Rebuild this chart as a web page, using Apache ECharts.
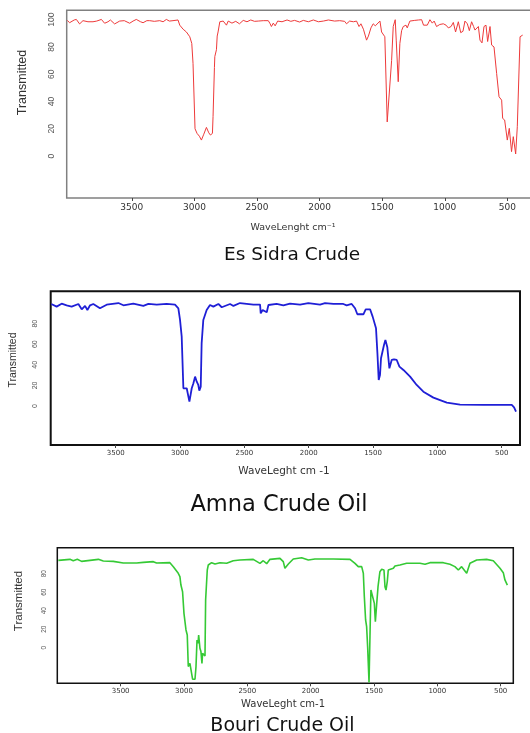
<!DOCTYPE html>
<html>
<head>
<meta charset="utf-8">
<script src="https://cdn.jsdelivr.net/npm/echarts@6/dist/echarts.min.js"></script>
<style>html,body{margin:0;padding:0;background:#fff}#main{width:530px;height:733px}</style>
</head>
<body>
<div id="main"></div>
<script>
// tick labels
var xTicks = [3500, 3000, 2500, 2000, 1500, 1000, 500];
var yTicksSidra = [0, 20, 40, 60, 80, 100];
var yTicksOther = [0, 20, 40, 60, 80];

// Es Sidra Crude (red)
var sidraWave = [4015, 3997, 3960, 3943, 3917, 3890, 3877, 3850, 3810, 3780, 3743, 3717, 3690, 3671, 3637, 3597, 3560, 3517, 3490, 3464,
  3430, 3410, 3380, 3357, 3320, 3277, 3250, 3224, 3200, 3171, 3131, 3117, 3090, 3064, 3037, 3021, 3011, 2995, 2979, 2960,
  2944, 2925, 2904, 2885, 2872, 2856, 2851, 2840, 2837, 2824, 2818, 2811, 2797, 2770, 2755, 2744, 2730, 2700, 2670, 2640,
  2610, 2580, 2550, 2520, 2490, 2450, 2410, 2395, 2385, 2370, 2355, 2335, 2300, 2260, 2230, 2200, 2160, 2130, 2090, 2050,
  2010, 1970, 1930, 1880, 1840, 1800, 1785, 1760, 1730, 1705, 1692, 1685, 1670, 1650, 1625, 1610, 1590, 1572, 1555, 1518,
  1505, 1479, 1460, 1425, 1412, 1396, 1388, 1372, 1359, 1345, 1332, 1310, 1300, 1279, 1240, 1210, 1185, 1170, 1159, 1140,
  1119, 1100, 1085, 1066, 1040, 1012, 990, 972, 950, 932, 914, 892, 873, 855, 839, 820, 804, 786, 770, 759,
  745, 732, 719, 703, 687, 671, 658, 639, 626, 607, 586, 567, 546, 538, 522, 501, 485, 467, 453, 434,
  421, 399, 378];
var sidraT = [99.5, 97.8, 99.8, 100.2, 96.9, 99.3, 100.2, 98.5, 98.5, 99, 100.2, 97.4, 98.5, 99.8, 96.9, 99, 99.3, 97.4, 99, 100.2,
  98.5, 97.8, 99.3, 99.3, 98.8, 99.3, 98.5, 100.2, 99, 99.3, 99.8, 96, 93, 91, 87.5, 82.6, 68, 20, 16.6, 14.5,
  11.7, 16, 21, 17, 15.4, 16.6, 29, 65, 73, 78, 88, 91, 98.5, 99, 99.5, 96, 99, 97.5, 98.8, 97,
  99.5, 98.5, 99.8, 98.8, 99, 99.3, 99.3, 97, 95, 97.5, 95.5, 99, 98.5, 99.8, 98.8, 99.5, 98.3, 99.5, 98.5, 99.8,
  98.5, 99, 99.8, 99, 99.3, 98.8, 97, 99, 98.5, 99, 100, 95, 97, 93, 85, 88, 94, 97, 95.5, 99,
  91, 87.5, 25, 70, 95, 100, 85, 54.5, 82.6, 92, 95, 96, 94, 99, 99.5, 99.8, 100, 96, 95, 96,
  100, 97.5, 99, 95, 96.5, 97, 96, 94, 95, 98, 91, 98.5, 90.5, 91.5, 99, 97, 92, 98.5, 95, 92.4,
  93, 95, 85, 83, 95, 96, 84, 95, 81.4, 80, 60.6, 43.5, 41, 27.6, 26.4, 11.7, 20.3, 3.2, 14.2, 1.5,
  21.5, 87.5, 88.7];

// Amna Crude Oil (blue)
var amnaWave = [4000, 3959, 3920, 3881, 3842, 3790, 3764, 3738, 3720, 3699, 3674, 3622, 3570, 3479, 3440, 3363, 3285, 3246, 3181, 3104,
  3039, 3013, 3000, 2987, 2974, 2948, 2927, 2909, 2896, 2883, 2870, 2858, 2850, 2839, 2832, 2819, 2793, 2767, 2741, 2702,
  2676, 2611, 2585, 2534, 2430, 2378, 2373, 2358, 2326, 2313, 2249, 2197, 2145, 2067, 2003, 1912, 1873, 1808, 1731, 1718,
  1705, 1666, 1640, 1622, 1575, 1557, 1523, 1503, 1477, 1466, 1456, 1446, 1438, 1425, 1415, 1404, 1389, 1373, 1355, 1337,
  1316, 1295, 1264, 1212, 1161, 1109, 1031, 927, 824, 642, 422, 404, 389];
var amnaT = [99.1, 96.5, 99.4, 97.8, 96.5, 99.1, 93.9, 97.2, 93.3, 97.8, 99.1, 94.9, 98.4, 100, 97.8, 99.4, 97.2, 99.1, 98.4, 99.1,
  98.4, 94.9, 83.6, 67.4, 17.2, 17.2, 4.2, 17.2, 22, 28.5, 23.6, 20.4, 14.9, 18.8, 60.9, 83.6, 93.3, 98.1, 96.5, 99.1,
  95.9, 99.1, 97.2, 100, 98.4, 98.4, 90, 93.3, 91, 98.1, 99.1, 97.8, 99.4, 98.4, 100, 98.4, 100, 99.1, 99.1, 100.8,
  97.8, 99.1, 94.9, 89.1, 89.1, 93.9, 93.9, 86.8, 75.5, 51.2, 25.3, 30.1, 46.3, 47.3, 59.3, 64.1, 57, 36.6, 44.7, 45.3,
  44.7, 38.2, 35, 28.5, 20.4, 13.9, 8.1, 3.2, 1.3, 1, 1, -1.3, -5.5];

// Bouri Crude Oil (green)
var bouriWave = [3992, 3900, 3874, 3842, 3808, 3676, 3637, 3558, 3479, 3374, 3321, 3242, 3216, 3111, 3084, 3045, 3032, 3024, 3011, 3000,
  2987, 2984, 2974, 2966, 2953, 2939, 2932, 2913, 2905, 2897, 2889, 2884, 2874, 2866, 2858, 2853, 2842, 2834, 2829, 2821,
  2816, 2808, 2782, 2755, 2716, 2663, 2611, 2558, 2453, 2400, 2374, 2347, 2321, 2242, 2216, 2203, 2189, 2176, 2137, 2071,
  2018, 1966, 1821, 1689, 1650, 1624, 1597, 1584, 1576, 1566, 1558, 1550, 1539, 1532, 1524, 1511, 1497, 1489, 1474, 1468,
  1453, 1439, 1421, 1413, 1405, 1395, 1387, 1347, 1334, 1295, 1242, 1137, 1097, 1058, 953, 900, 861, 834, 808, 768,
  742, 689, 611, 558, 505, 479, 466, 453, 447];
var bouriT = [94.4, 95.5, 94, 95.5, 93.3, 95.5, 93.7, 93.3, 91.5, 91.5, 92.2, 93, 91.5, 91.9, 87.6, 80.4, 76.8, 67.7, 60.5, 37.1,
  35.3, 19.1, 13.7, -20.5, -17, -16.2, -34.2, -34.2, -20.5, 8.3, 4.7, 13.7, -0.7, -4.3, -17, -6.1, -7.9, -9, 51.5, 53.3,
  84, 89.4, 91.9, 90.5, 91.9, 91.2, 94, 94.8, 95.5, 91.2, 94, 90.8, 95.5, 96.6, 93, 85.8, 84.7, 90.5, 95.9, 97.3,
  94.8, 95.9, 95.9, 95.5, 91.2, 87.6, 87.6, 80.4, 55.1, 29.9, 22.7, 1.1, -37.8, -37.8, 62.3, 60.5, 47.9, 28.1, 27, 65.9,
  82.2, 84.7, 84, 65.9, 62.3, 71.4, 84, 85.8, 88.3, 89.4, 91.2, 91.2, 90.1, 91.9, 91.9, 90.1, 87.6, 84, 87.6, 80.4,
  91.2, 94.8, 95.5, 94, 85.8, 81.1, 73.2, 72.1, 67.7];

function pairs(w, t) {
    return w.map(function (x, i) { return [x, t[i]]; });
}

var chart = echarts.init(document.getElementById('main'));

function plain(v) {
    return String(v);
}

function makeX(idx, min, max, fontSize, margin) {
    return {
        gridIndex: idx, type: 'value', inverse: true, min: min, max: max,
        axisLine: { show: false, onZero: false },
        splitLine: { show: false },
        axisTick: { show: true, customValues: xTicks, length: 3, lineStyle: { color: '#444' } },
        axisLabel: { customValues: xTicks, formatter: plain, fontSize: fontSize, color: '#333', margin: margin,
            fontFamily: 'DejaVu Sans' }
    };
}

function makeY(idx, min, max, ticks, fontSize, margin) {
    return {
        gridIndex: idx, type: 'value', min: min, max: max,
        axisLine: { show: false, onZero: false },
        splitLine: { show: false },
        axisTick: { show: false },
        axisLabel: { customValues: ticks, formatter: plain, rotate: 90, fontSize: fontSize, color: '#555', margin: margin,
            fontFamily: 'Liberation Sans Narrow, Liberation Sans' }
    };
}

function label(text, x, y, size, opts) {
    opts = opts || {};
    return {
        type: 'text', x: x, y: y, rotation: opts.rot || 0,
        style: {
            text: text, fill: opts.color || '#222',
            font: size + 'px ' + (opts.family || '"DejaVu Sans"'),
            align: 'center', verticalAlign: 'middle',
            textAlign: 'center', textVerticalAlign: 'middle'
        }
    };
}

var narrow = '"Liberation Sans Narrow", "Liberation Sans"';

var option = {
    animation: false,
    backgroundColor: '#fff',
    grid: [
        { left: 66.7, top: 10.3, width: 467, height: 187.7, show: true, borderColor: '#808080', borderWidth: 1.5,
            outerBoundsMode: 'none' },
        { left: 50.7, top: 291.3, width: 469.3, height: 153.7, show: true, borderColor: '#111', borderWidth: 2,
            outerBoundsMode: 'none' },
        { left: 57.3, top: 547.7, width: 456, height: 135.6, show: true, borderColor: '#111', borderWidth: 1.5,
            outerBoundsMode: 'none' }
    ],
    xAxis: [
        makeX(0, 290, 4020, 9, 5),
        makeX(1, 358, 4005, 7, 5),
        makeX(2, 400, 4000, 7, 4)
    ],
    yAxis: [
        makeY(0, -30.8, 106.9, yTicksSidra, 8.5, 11),
        makeY(1, -37.9, 111.4, yTicksOther, 7, 12),
        makeY(2, -38.6, 108.1, yTicksOther, 6.5, 10)
    ],
    graphic: [
        label('Transmitted', 22.7, 82.5, 12.5, { rot: Math.PI / 2, family: narrow, color: '#333' }),
        label('Transmitted', 13.3, 360, 10.5, { rot: Math.PI / 2, family: narrow, color: '#333' }),
        label('Transmitted', 19, 601, 11.5, { rot: Math.PI / 2, family: narrow, color: '#333' }),
        label('WaveLenght cm\u207B\u00B9', 293, 228, 9.5, { color: '#333' }),
        label('WaveLeght cm -1', 284, 471.7, 10.5, { color: '#333' }),
        label('WaveLeght cm-1', 283, 704, 10, { color: '#333' }),
        label('Es Sidra Crude', 292, 255, 18.5, { color: '#111' }),
        label('Amna Crude Oil', 279, 505, 22.5, { color: '#111' }),
        label('Bouri Crude Oil', 282.5, 725.7, 19, { color: '#111' })
    ],
    series: [
        { type: 'line', xAxisIndex: 0, yAxisIndex: 0, data: pairs(sidraWave, sidraT), showSymbol: false,
            lineStyle: { color: '#ee3a3a', width: 1 }, itemStyle: { color: '#ee3a3a' } },
        { type: 'line', xAxisIndex: 1, yAxisIndex: 1, data: pairs(amnaWave, amnaT), showSymbol: false,
            lineStyle: { color: '#1f1fd6', width: 1.8 }, itemStyle: { color: '#1f1fd6' } },
        { type: 'line', xAxisIndex: 2, yAxisIndex: 2, data: pairs(bouriWave, bouriT), showSymbol: false,
            lineStyle: { color: '#35c935', width: 1.6 }, itemStyle: { color: '#35c935' } }
    ]
};

chart.setOption(option);
</script>
</body>
</html>
